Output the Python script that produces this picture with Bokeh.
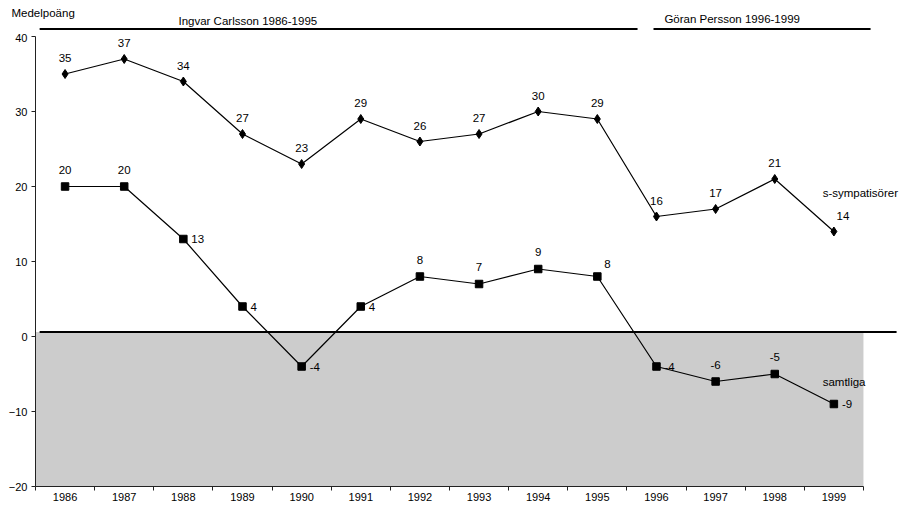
from bokeh.plotting import figure
from bokeh.layouts import column
from bokeh.models import Range1d, FixedTicker, ColumnDataSource
from bokeh.embed import file_html
from bokeh.resources import INLINE
from bokeh.core.properties import value
import numpy as np

# ---- data ----
years = ["1986", "1987", "1988", "1989", "1990", "1991", "1992",
         "1993", "1994", "1995", "1996", "1997", "1998", "1999"]
s_sympatisorer = [35, 37, 34, 27, 23, 29, 26, 27, 30, 29, 16, 17, 21, 14]
samtliga = [20, 20, 13, 4, -4, 4, 8, 7, 9, 8, -4, -6, -5, -9]
y_ticks = [-20, -10, 0, 10, 20, 30, 40]
periods = ["Ingvar Carlsson 1986-1995", "Göran Persson 1996-1999"]
y_title = "Medelpoäng"

# ---- styling / layout constants ----
FONT = value("Liberation Sans")
FS = "11.5px"
TFS = "11px"
W = 902
TOP_H = 33           # strip above the plot frame
MAIN_H = 512 - TOP_H
BORDER_L, BORDER_B = 32, 23
PXX = 59.14          # px per category
PXY = 7.5            # px per y unit
AXIS_X_PX = 35       # screen x of the y-axis line
FRAME_H = MAIN_H - BORDER_B
y_start = -20.0 - 3 / PXY
y_end = y_start + FRAME_H / PXY
x_start = -(AXIS_X_PX - BORDER_L) / PXX
x_end = x_start + (W - BORDER_L) / PXX

n = len(years)
xc = np.arange(n) + 0.5

# ---------- top strip: y-title and period annotations ----------
top_x0 = -AXIS_X_PX / PXX
top = figure(width=W, height=TOP_H, output_backend="svg", toolbar_location=None,
             x_range=Range1d(top_x0, top_x0 + W / PXX),
             y_range=Range1d(y_end, y_end + TOP_H / PXY),
             x_axis_type=None, y_axis_type=None,
             min_border_left=0, min_border_right=0, min_border_top=0, min_border_bottom=0)
top.frame_align = False
top.outline_line_color = None
top.grid.visible = False
top.segment(x0=[0.07, 10.45], x1=[10.18, 14.12], y0=[41.0, 41.0], y1=[41.0, 41.0],
            line_color="black", line_width=2.2)
top.text(x=[3.59, 11.78], y=[42.13, 42.4], text=periods, text_font=FONT, text_font_size=FS,
         text_color="black", text_align="center", text_baseline="middle")
top.text(x=[-0.406], y=[43.07], text=[y_title], text_font=FONT, text_font_size=FS,
         text_color="black", text_align="left", text_baseline="middle")

# ---------- main plot ----------
p = figure(width=W, height=MAIN_H, output_backend="svg", toolbar_location=None,
           x_range=Range1d(x_start, x_end), y_range=Range1d(y_start, y_end),
           min_border_left=BORDER_L, min_border_right=0, min_border_top=0,
           min_border_bottom=BORDER_B)
p.frame_align = False
p.outline_line_color = None
p.grid.visible = False
p.background_fill_color = "white"

# gray negative area and zero line
p.quad(left=0, right=n, bottom=-20, top=0.6, fill_color="#cccccc", line_color=None)
p.segment(x0=0.07, x1=14.56, y0=0.6, y1=0.6, line_color="black", line_width=2)

# axis lines drawn by hand (limited extents)
p.segment(x0=0, x1=0, y0=-20, y1=40, line_color="#222222", line_width=1)
p.segment(x0=0, x1=n, y0=-20, y1=-20, line_color="#222222", line_width=1.2)

# axes
xa = p.xaxis[0]
xa.ticker = FixedTicker(ticks=list(xc), minor_ticks=list(range(n + 1)))
xa.major_label_overrides = {float(x): y for x, y in zip(xc, years)}
xa.axis_line_color = None
xa.major_tick_line_color = None
xa.major_tick_in = 0
xa.major_tick_out = 0
xa.minor_tick_in = 3
xa.minor_tick_out = 1
xa.minor_tick_line_color = "#222222"
xa.major_label_standoff = 2
xa.major_label_text_font = "Liberation Sans"
xa.major_label_text_font_size = TFS
xa.major_label_text_color = "black"

ya = p.yaxis[0]
ya.ticker = FixedTicker(ticks=y_ticks)
ya.axis_line_color = None
ya.minor_tick_line_color = None
ya.major_tick_in = 3
ya.major_tick_out = 1
ya.major_tick_line_color = "#222222"
ya.major_label_standoff = 4
ya.major_label_text_font = "Liberation Sans"
ya.major_label_text_font_size = TFS
ya.major_label_text_color = "black"

# series
p.line(xc, s_sympatisorer, line_color="black", line_width=1.2)
p.scatter(xc, s_sympatisorer, marker="diamond", size=9, fill_color="black", line_color="black")
p.line(xc, samtliga, line_color="black", line_width=1.2)
p.scatter(xc, samtliga, marker="square", size=7.5, fill_color="black", line_color="black")

# data labels
s_dx = [0] * n
s_dx[-1] = 9
src_s = ColumnDataSource(dict(x=xc, y=s_sympatisorer, t=[str(v) for v in s_sympatisorer],
                              dx=s_dx, dy=[-16] * n))
p.text(x="x", y="y", text="t", x_offset="dx", y_offset="dy", source=src_s,
       text_font=FONT, text_font_size=FS, text_color="black",
       text_align="center", text_baseline="middle")

place = ["a", "a", "r", "r", "r", "r", "a", "a", "a", "ar", "r", "a", "a", "r"]
ax, ay, al = [], [], []
for pl in place:
    if pl == "a":
        ax.append(0); ay.append(-17); al.append("center")
    elif pl == "r":
        ax.append(8); ay.append(0); al.append("left")
    else:
        ax.append(10); ay.append(-13); al.append("center")
src_a = ColumnDataSource(dict(x=xc, y=samtliga, t=[str(v) for v in samtliga],
                              dx=ax, dy=ay, al=al))
p.text(x="x", y="y", text="t", x_offset="dx", y_offset="dy", text_align="al", source=src_a,
       text_font=FONT, text_font_size=FS, text_color="black", text_baseline="middle")

# series names
p.text(x=[13.31], y=[19.07], text=["s-sympatisörer"], text_font=FONT, text_font_size=FS,
       text_color="black", text_align="left", text_baseline="middle")
p.text(x=[13.31], y=[-6.13], text=["samtliga"], text_font=FONT, text_font_size=FS,
       text_color="black", text_align="left", text_baseline="middle")

layout = column(top, p, spacing=0)
open("out.html", "w").write(file_html(layout, INLINE))
